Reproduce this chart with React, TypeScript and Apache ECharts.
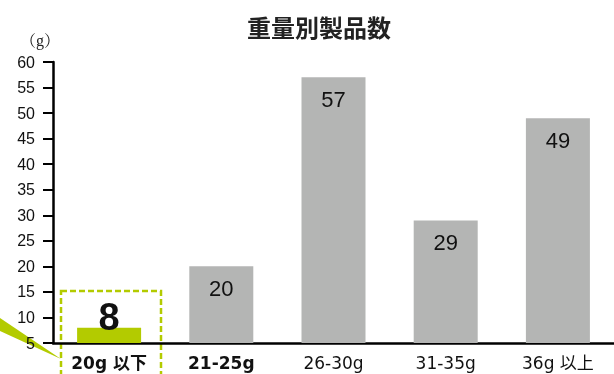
import React, { useEffect, useRef } from "react";
import * as echarts from "echarts";

const categories = ["20g 以下", "21-25g", "26-30g", "31-35g", "36g 以上"];
const values = [8, 20, 57, 29, 49];
const boldCats = [true, true, false, false, false];
const titleText = "重量別製品数";
const unitText = "（g）";

const GREEN = "#b3cb00";
const GRAY = "#b4b5b4";

export default function App() {
  const ref = useRef<HTMLDivElement>(null);
  useEffect(() => {
    if (!ref.current) return;
    const chart = echarts.init(ref.current, null, { renderer: "svg" });
    chart.setOption({
      animation: false,
      title: {
        text: titleText,
        left: 314,
        textAlign: "center",
        top: 9,
        textStyle: {
          fontFamily: "Noto Sans CJK JP",
          fontSize: 24,
          fontWeight: "bold",
          color: "#222",
        },
      },
      grid: { left: 53, top: 62, width: 565, bottom: 31, containLabel: false },
      xAxis: {
        type: "category",
        data: categories,
        axisLine: { lineStyle: { color: "#000", width: 2.5 } },
        axisTick: { show: false },
        axisLabel: {
          margin: 11,
          interval: 0,
          formatter: (v: string, i: number) =>
            boldCats[i] ? `{b|${v}}` : `{n|${v}}`,
          rich: {
            b: {
              fontFamily: "DejaVu Sans, Noto Sans CJK JP",
              fontSize: 17,
              fontWeight: "bold",
              color: "#111",
            },
            n: {
              fontFamily: "DejaVu Sans, Noto Sans CJK JP",
              fontSize: 17,
              color: "#111",
            },
          },
        },
      },
      yAxis: {
        type: "value",
        min: 5,
        max: 60,
        interval: 5,
        axisLine: { show: true, lineStyle: { color: "#000", width: 2.5 } },
        axisTick: { show: true, inside: false, length: 10, lineStyle: { color: "#000", width: 2 } },
        splitLine: { show: false },
        axisLabel: {
          margin: 18,
          fontFamily: "Liberation Sans",
          fontSize: 16,
          color: "#111",
        },
      },
      series: [
        {
          type: "bar",
          barWidth: 64,
          data: values.map((v, i) =>
            i === 0
              ? {
                  value: v,
                  itemStyle: { color: GREEN },
                  label: {
                    position: "top",
                    distance: 0,
                    offset: [0, 8],
                    fontSize: 38,
                    fontWeight: "bold",
                    fontFamily: "Liberation Sans",
                    color: "#111",
                  },
                }
              : { value: v, itemStyle: { color: GRAY } }
          ),
          label: {
            show: true,
            position: "insideTop",
            distance: 11,
            fontFamily: "Liberation Sans",
            fontSize: 22,
            color: "#111",
          },
        },
      ],
      graphic: [
        {
          type: "text",
          left: 20,
          top: 32,
          style: {
            text: unitText,
            fontFamily: "Liberation Serif, Noto Serif CJK JP, Noto Sans CJK JP",
            fontSize: 16,
            fill: "#222",
          },
        },
        {
          type: "rect",
          shape: { x: 61, y: 291, width: 100, height: 100 },
          style: { fill: "none", stroke: GREEN, lineWidth: 2.5, lineDash: [6, 3] },
        },
        {
          type: "polygon",
          shape: { points: [[0, 318], [0, 331], [61, 359]] },
          style: { fill: GREEN },
        },
      ],
    });
    return () => chart.dispose();
  }, []);
  return (
    <div
      ref={ref}
      style={{ position: "fixed", left: 0, top: 0, width: 614, height: 374 }}
    />
  );
}
